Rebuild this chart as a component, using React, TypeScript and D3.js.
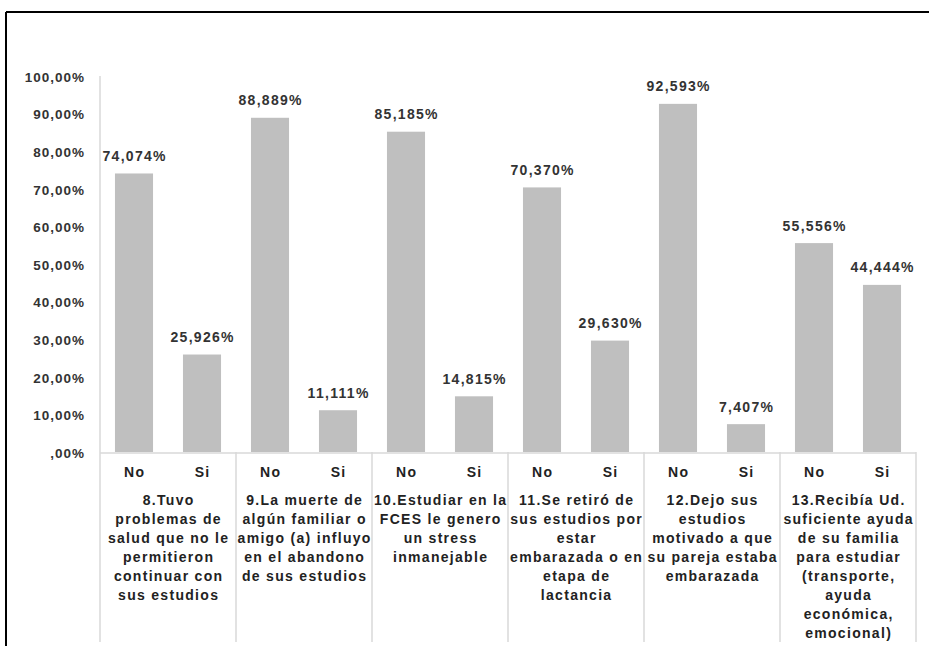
import * as d3 from "d3";

// Questions (tick labels, already wrapped as in the source)
const questions: string[][] = [
  ["8.Tuvo", "problemas de", "salud que no le", "permitieron", "continuar con", "sus estudios"],
  ["9.La muerte de", "algún familiar o", "amigo (a) influyo", "en el abandono", "de sus estudios"],
  ["10.Estudiar en la", "FCES le genero", "un stress", "inmanejable"],
  ["11.Se retiró de", "sus estudios por", "estar", "embarazada o en", "etapa de", "lactancia"],
  ["12.Dejo sus", "estudios", "motivado a que", "su pareja estaba", "embarazada"],
  ["13.Recibía Ud.", "suficiente ayuda", "de su familia", "para estudiar", "(transporte,", "ayuda", "económica,", "emocional)"],
];
const answers = ["No", "Si"];
const noValues = [74.074, 88.889, 85.185, 70.37, 92.593, 55.556];
const siValues = [25.926, 11.111, 14.815, 29.63, 7.407, 44.444];
const yTicks = [0, 10, 20, 30, 40, 50, 60, 70, 80, 90, 100];

const W = 929;
const H = 646;
const font = "'Liberation Sans', Arial, sans-serif";

export default function App() {
  const left = 100;
  const right = 916;
  const top = 76;
  const bottom = 452;
  const ls = 1.3; // letter spacing, the source text is drawn a bit wide

  const y = d3.scaleLinear().domain([0, 100]).range([bottom, top]);
  const xGroup = d3
    .scaleBand<number>()
    .domain(d3.range(questions.length))
    .range([left, right]);
  const xSub = d3
    .scaleBand<string>()
    .domain(answers)
    .range([0, xGroup.bandwidth()])
    .paddingInner(0.44)
    .paddingOuter(0.22);

  const bars = questions.flatMap((_, i) => [
    { q: i, a: "No", v: noValues[i] },
    { q: i, a: "Si", v: siValues[i] },
  ]);

  const fmtVal = (v: number) => v.toFixed(3).replace(".", ",") + "%";
  const fmtTick = (v: number) => (v === 0 ? ",00%" : v.toFixed(2).replace(".", ",") + "%");

  return (
    <svg
      width={W}
      height={H}
      style={{ position: "absolute", left: 0, top: 0, background: "#fff" }}
      fontFamily={font}
      fontWeight="bold"
    >
      {/* frame */}
      <line x1={6} x2={W} y1={12} y2={12} stroke="#000" strokeWidth={2} />
      <line x1={6} x2={6} y1={12} y2={H} stroke="#000" strokeWidth={2} />

      {/* y axis */}
      <line x1={left} x2={left} y1={top} y2={bottom} stroke="#d9d9d9" strokeWidth={1.5} />
      {yTicks.map(t => (
        <text
          key={t}
          x={84 + 1}
          y={y(t) + 1}
          dy="0.35em"
          textAnchor="end"
          fontSize={13.5}
          letterSpacing={1}
          fill="#333"
        >
          {fmtTick(t)}
        </text>
      ))}

      {/* bars */}
      {bars.map(d => {
        const x = xGroup(d.q)! + xSub(d.a)!;
        return (
          <g key={`${d.q}-${d.a}`}>
            <rect
              x={x}
              y={y(d.v)}
              width={xSub.bandwidth()}
              height={bottom - y(d.v)}
              fill="#bfbfbf"
            />
            <text
              x={x + xSub.bandwidth() / 2 + ls / 2}
              y={y(d.v) - 12.5}
              textAnchor="middle"
              fontSize={14}
              letterSpacing={ls}
              fill="#333"
            >
              {fmtVal(d.v)}
            </text>
          </g>
        );
      })}

      {/* x axis + category grid */}
      <line x1={left} x2={right} y1={bottom + 1} y2={bottom + 1} stroke="#d9d9d9" strokeWidth={1.5} />
      {d3.range(questions.length + 1).map(i => {
        const x = i < questions.length ? xGroup(i)! : right;
        return (
          <line key={i} x1={x} x2={x} y1={bottom} y2={642} stroke="#d9d9d9" strokeWidth={1.5} />
        );
      })}

      {questions.map((lines, i) => (
        <g key={i}>
          {answers.map(a => (
            <text
              key={a}
              x={xGroup(i)! + xSub(a)! + xSub.bandwidth() / 2 + ls / 2}
              y={472}
              dy="0.35em"
              textAnchor="middle"
              fontSize={14}
              letterSpacing={ls}
              fill="#222"
            >
              {a}
            </text>
          ))}
          {lines.map((l, j) => (
            <text
              key={j}
              x={xGroup(i)! + xGroup.bandwidth() / 2 + ls / 2}
              y={500 + j * 19}
              dy="0.35em"
              textAnchor="middle"
              fontSize={14}
              letterSpacing={ls}
              fill="#222"
            >
              {l}
            </text>
          ))}
        </g>
      ))}
    </svg>
  );
}
